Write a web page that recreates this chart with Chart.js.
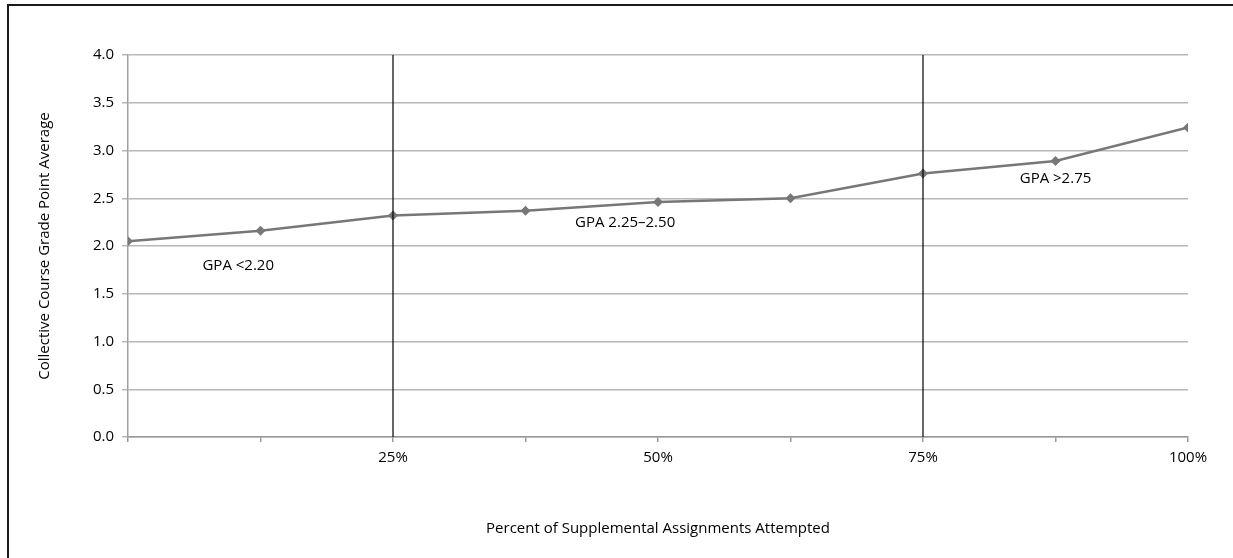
<!DOCTYPE html>
<html><head><meta charset="utf-8">
<script src="https://cdn.jsdelivr.net/npm/chart.js@4"></script>
<style>
html,body{margin:0;padding:0;background:#fff;overflow:hidden}
#wrap{position:relative;width:1233px;height:558px;overflow:hidden}
#frame{position:absolute;left:7px;top:4px;width:1300px;height:600px;border-left:2px solid #1a1a1a;border-top:2px solid #1a1a1a}
canvas{position:absolute;left:0;top:0}
</style></head><body>
<div id="wrap"><div id="frame"></div><canvas id="c" width="1233" height="558"></canvas></div>
<script>
const percentAttempted = [0, 12.5, 25, 37.5, 50, 62.5, 75, 87.5, 100];
const gpaValues = [2.05, 2.16, 2.32, 2.37, 2.46, 2.50, 2.76, 2.89, 3.24];
const xTickLabels = {25: '25%', 50: '50%', 75: '75%', 100: '100%'};
const yTickValues = [0, 0.5, 1, 1.5, 2, 2.5, 3, 3.5, 4];
const dividerX = [25, 75];
const bandLabels = ['GPA <2.20', 'GPA 2.25\u20132.50', 'GPA >2.75'];
const bandLabelX = [10.4, 46.9, 87.5];
const bandLabelY = [1.79, 2.24, 2.70];

const FONT = '"Open Sans", Lato, sans-serif';
const fontSize = 15;

const annotationPlugin = {
  id: 'bandText',
  afterDatasetsDraw(chart) {
    const {ctx, scales: {x, y}} = chart;
    ctx.save();
    ctx.font = fontSize + 'px ' + FONT;
    ctx.fillStyle = '#000';
    ctx.textAlign = 'center';
    ctx.textBaseline = 'middle';
    bandLabels.forEach((t, i) => {
      ctx.fillText(t, x.getPixelForValue(bandLabelX[i]), y.getPixelForValue(bandLabelY[i]));
    });
    ctx.restore();
  }
};

const datasets = [{
  data: percentAttempted.map((v, i) => ({x: v, y: gpaValues[i]})),
  borderColor: '#777777',
  backgroundColor: '#777777',
  borderWidth: 2.5,
  pointStyle: 'rectRot',
  pointRadius: 5,
  pointBorderWidth: 0,
  tension: 0,
  order: 1
}];
dividerX.forEach(v => datasets.push({
  data: [{x: v, y: 0}, {x: v, y: 4}],
  borderColor: '#000',
  borderWidth: 1.2,
  pointRadius: 0,
  order: 0
}));

new Chart(document.getElementById('c'), {
  type: 'line',
  data: {datasets},
  plugins: [annotationPlugin],
  options: {
    responsive: false,
    animation: false,
    layout: {padding: {left: 30, right: 45, top: 55, bottom: 20}},
    plugins: {legend: {display: false}, tooltip: {enabled: false}},
    scales: {
      x: {
        type: 'linear', min: 0, max: 100,
        afterBuildTicks: s => { s.ticks = percentAttempted.map(v => ({value: v})); },
        afterFit: s => { s.height = 101; },
        ticks: {
          callback: v => xTickLabels[v] || '',
          autoSkip: false, maxRotation: 0, padding: 7, color: '#000',
          font: {family: FONT, size: fontSize}
        },
        grid: {drawOnChartArea: false, tickLength: 5, color: '#999', lineWidth: 1.5},
        border: {color: '#999', width: 1.5},
        title: {
          display: true, text: 'Percent of Supplemental Assignments Attempted',
          color: '#000', font: {family: FONT, size: fontSize}, padding: {top: 0, bottom: 0}
        }
      },
      y: {
        min: 0, max: 4,
        afterBuildTicks: s => { s.ticks = yTickValues.map(v => ({value: v})); },
        afterFit: s => { s.width = 98; },
        ticks: {
          callback: v => v.toFixed(1),
          padding: 8, color: '#000',
          font: {family: FONT, size: fontSize}
        },
        grid: {color: '#b8b8b8', lineWidth: 1.5, tickLength: 6},
        border: {color: '#a0a0a0', width: 1.5},
        title: {
          display: true, text: 'Collective Course Grade Point Average',
          color: '#000', font: {family: FONT, size: fontSize}, padding: {top: 6, bottom: 0}
        }
      }
    }
  }
});
</script>
</body></html>
